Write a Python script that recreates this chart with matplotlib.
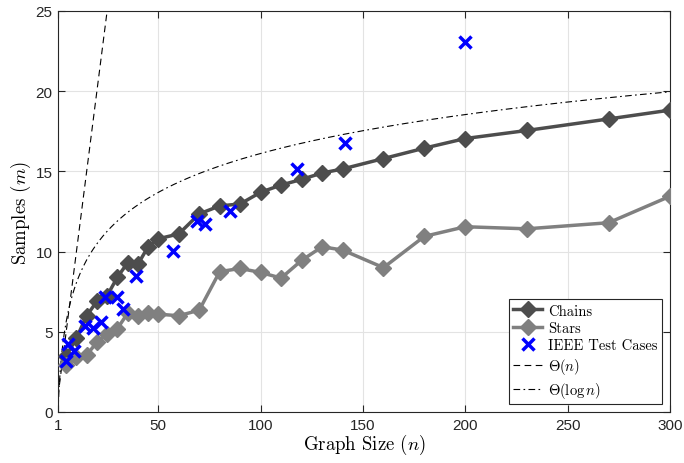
import numpy as np
import matplotlib
matplotlib.use("Agg")
import matplotlib.pyplot as plt

# ---- data ----
chain_n = [5, 10, 15, 20, 25, 30, 35, 40, 45, 50, 60, 70, 80, 90, 100, 110, 120, 130, 140, 160, 180, 200, 230, 270, 300]
chain_m = [3.5, 4.6, 6.0, 6.9, 7.25, 8.4, 9.3, 9.2, 10.3, 10.8, 11.1, 12.35, 12.85, 12.97, 13.7, 14.15, 14.5, 14.9, 15.15, 15.8, 16.45, 17.05, 17.55, 18.27, 18.82]

star_n = [5, 10, 15, 20, 25, 30, 35, 40, 45, 50, 60, 70, 80, 90, 100, 110, 120, 130, 140, 160, 180, 200, 230, 270, 300]
star_m = [2.9, 3.4, 3.55, 4.35, 4.85, 5.2, 6.15, 6.0, 6.2, 6.1, 6.0, 6.35, 8.75, 8.95, 8.7, 8.35, 9.45, 10.3, 10.1, 9.0, 10.95, 11.55, 11.42, 11.8, 13.45]

ieee_n = [5, 6, 9, 14, 18, 22, 24, 30, 33, 39, 57, 69, 73, 85, 118, 141, 200]
ieee_m = [3.15, 4.24, 3.8, 5.38, 5.25, 5.6, 7.15, 7.15, 6.42, 8.46, 10.06, 11.93, 11.72, 12.55, 15.15, 16.75, 23.09]

theta_lin_scale = 1.0
theta_log_scale = 3.5

x_ticks = [1, 50, 100, 150, 200, 250, 300]
y_ticks = [0, 5, 10, 15, 20, 25]

# ---- style ----
plt.rcParams['mathtext.fontset'] = 'cm'
tick_font = ['Liberation Sans', 'DejaVu Sans']
cm_font = ['cmr10', 'DejaVu Serif']

fig = plt.figure(figsize=(6.84, 4.64), dpi=100)
ax = fig.add_axes([58/684, 1-413/464, (670-58)/684, (413-12)/464])

n_curve = np.linspace(1, 300, 600)
ax.plot(n_curve, theta_lin_scale * n_curve, color='black', lw=0.8,
        linestyle=(0, (6, 4)), label=r'$\Theta(n)$', zorder=2)
ax.plot(n_curve, theta_log_scale * np.log(n_curve), color='black', lw=0.8,
        linestyle=(0, (6, 3, 1.5, 3)), label=r'$\Theta(\log n)$', zorder=2)

ax.plot(chain_n, chain_m, color='#4d4d4d', lw=2.5, marker='D',
        markersize=8, label='Chains', zorder=3)
ax.plot(star_n, star_m, color='#808080', lw=2.5, marker='D',
        markersize=8, label='Stars', zorder=3)
ax.plot(ieee_n, ieee_m, linestyle='none', color='#0000ff', marker='x',
        markersize=8, mew=2.5, label='IEEE Test Cases', zorder=4)

ax.set_xlim(1, 300)
ax.set_ylim(0, 25)
ax.set_xticks(x_ticks)
ax.set_yticks(y_ticks)
ax.set_xticklabels([str(v) for v in x_ticks], family=tick_font, fontsize=11)
ax.set_yticklabels([str(v) for v in y_ticks], family=tick_font, fontsize=11)
ax.grid(True, color='#e3e3e3', lw=0.8, zorder=0)
ax.set_axisbelow(True)
ax.tick_params(direction='in', length=5, width=0.8, top=True, right=True,
               colors='#262626', pad=4)
for s in ax.spines.values():
    s.set_color('#262626')
    s.set_linewidth(0.8)

ax.set_xlabel(r'Graph Size ($n$)', family=cm_font, fontsize=13.5, labelpad=0)
ax.set_ylabel(r'Samples ($m$)', family=cm_font, fontsize=13.5, labelpad=2)

handles, labels = ax.get_legend_handles_labels()
order = [2, 3, 4, 0, 1]
leg = ax.legend([handles[i] for i in order], [labels[i] for i in order],
                loc='lower right', bbox_to_anchor=(1.0, 0.0),
                prop={'family': cm_font, 'size': 10.5}, fancybox=False,
                framealpha=1, edgecolor='#262626', handlelength=2.0,
                handletextpad=0.4, borderpad=0.3, labelspacing=0.25,
                borderaxespad=0.55)
leg.get_frame().set_linewidth(0.8)

fig.savefig('out.png', dpi=100)
